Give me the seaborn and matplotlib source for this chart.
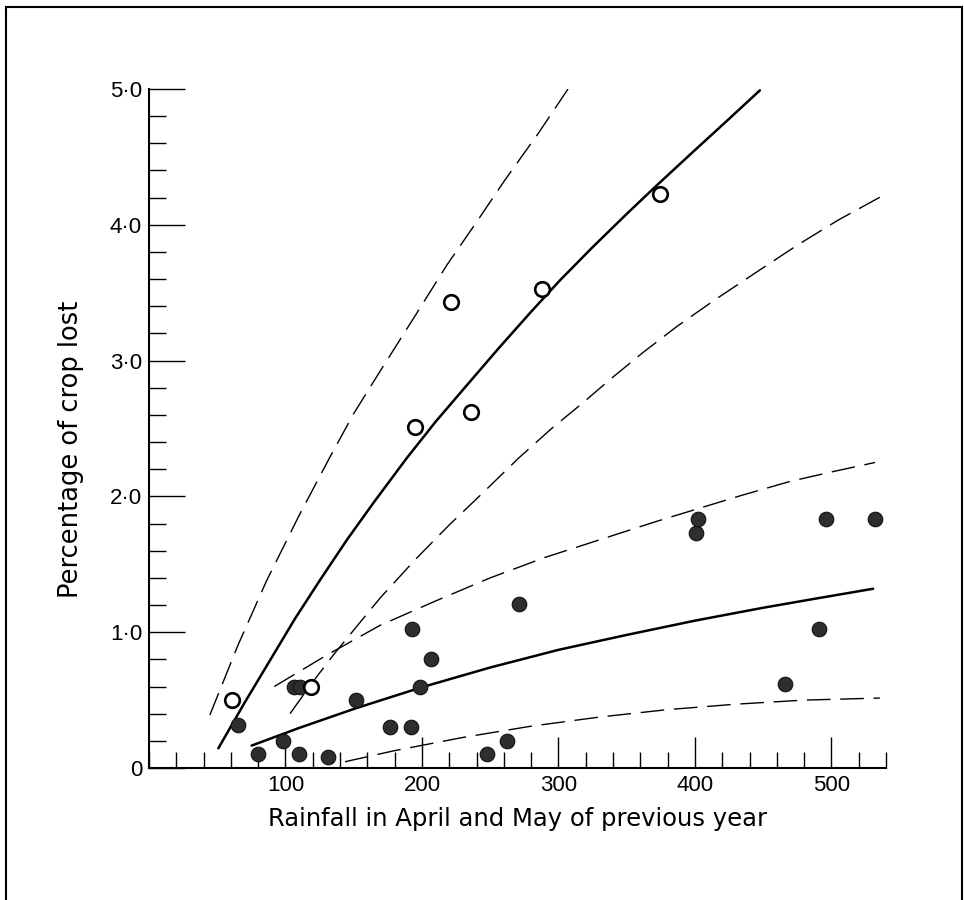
import matplotlib
matplotlib.use("Agg")
import matplotlib.pyplot as plt
from matplotlib.patches import Rectangle
from matplotlib.ticker import MultipleLocator, FixedLocator
import seaborn as sns

# open circles (one group of years)
open_x = [60.8, 118.5, 194.9, 221, 235.7, 288.3, 374.2]
open_y = [0.50, 0.60, 2.51, 3.43, 2.62, 3.53, 4.23]

# filled circles (other group)
filled_x = [65.4, 79.6, 97.9, 106, 111, 109.9, 130.9, 151.6, 176.6, 191.7, 192.4,
            198.5, 206.4, 247.4, 262, 271.3, 400.7, 402.4, 466, 491, 496, 531.9]
filled_y = [0.32, 0.10, 0.20, 0.60, 0.60, 0.10, 0.08, 0.50, 0.30, 0.30, 1.02,
            0.60, 0.80, 0.10, 0.20, 1.21, 1.73, 1.83, 0.62, 1.02, 1.83, 1.83]

# fitted curves and their limits
upper_hi_x = [44.6, 65, 86.2, 110, 132.6, 150, 169.2, 195, 218, 240, 260.8, 285, 307]
upper_hi_y = [0.39, 0.90, 1.38, 1.86, 2.29, 2.61, 2.92, 3.33, 3.70, 4.02, 4.33, 4.67, 5.0]
upper_fit_x = [50.8, 70, 90, 107, 125.3, 145, 165, 188.7, 210, 233, 257, 280, 301,
               325, 350, 372, 400, 425, 447.6]
upper_fit_y = [0.145, 0.48, 0.815, 1.10, 1.384, 1.68, 1.96, 2.28, 2.55, 2.82, 3.10,
               3.36, 3.59, 3.835, 4.08, 4.29, 4.55, 4.78, 4.99]
upper_lo_x = [103.3, 120, 136, 152, 169.2, 195, 220, 245, 270.6, 295, 318, 337.7,
              362, 386.6, 415, 446.4, 475, 505, 536.8]
upper_lo_y = [0.40, 0.634, 0.844, 1.04, 1.25, 1.534, 1.79, 2.03, 2.28, 2.50, 2.69,
              2.86, 3.06, 3.25, 3.45, 3.66, 3.85, 4.035, 4.21]

lower_hi_x = [91.8, 130, 169.2, 210, 250, 290, 330, 370, 402.4, 435, 469.6, 500, 532]
lower_hi_y = [0.60, 0.83, 1.05, 1.23, 1.40, 1.55, 1.68, 1.81, 1.91, 2.01, 2.11, 2.18, 2.25]
lower_fit_x = [75.2, 110, 151.6, 200, 250, 300, 350, 400, 450, 490, 530.6]
lower_fit_y = [0.165, 0.295, 0.44, 0.595, 0.74, 0.87, 0.98, 1.085, 1.18, 1.25, 1.32]
lower_lo_x = [143.6, 180, 230, 280, 330, 380, 430, 480, 535.5]
lower_lo_y = [0.046, 0.128, 0.225, 0.308, 0.375, 0.43, 0.47, 0.50, 0.515]

x_major = [100, 200, 300, 400, 500]
x_labels = ["100", "200", "300", "400", "500"]
y_major = [0, 1, 2, 3, 4, 5]
y_labels = ["0", "1·0", "2·0", "3·0", "4·0", "5·0"]

sns.set_style("ticks")
plt.rcParams["font.family"] = ["Liberation Sans", "DejaVu Sans"]
plt.rcParams.update({"text.color": "black", "axes.labelcolor": "black",
                     "xtick.color": "black", "ytick.color": "black"})

fig = plt.figure(figsize=(9.64, 9.0), dpi=100)
ax = fig.add_axes([149 / 964, 1 - 768 / 900, 737 / 964, 679 / 900])

dash = (0, (17, 7))
for xs, ys, style, lw in [
    (upper_hi_x, upper_hi_y, dash, 1.0),
    (upper_fit_x, upper_fit_y, "-", 1.8),
    (upper_lo_x, upper_lo_y, dash, 1.0),
    (lower_hi_x, lower_hi_y, dash, 1.0),
    (lower_fit_x, lower_fit_y, "-", 1.8),
    (lower_lo_x, lower_lo_y, dash, 1.0),
]:
    sns.lineplot(x=xs, y=ys, sort=False, estimator=None, color="black",
                 linewidth=lw, linestyle=style, ax=ax)

sns.scatterplot(x=filled_x, y=filled_y, s=110, color="#2e2e2e",
                edgecolor="#111111", linewidth=0.8, zorder=3, ax=ax)
sns.scatterplot(x=open_x, y=open_y, s=110, facecolor="white",
                edgecolor="black", linewidth=1.9, zorder=4, ax=ax)

ax.set_xlim(0, 540)
ax.set_ylim(0, 5)
sns.despine(ax=ax)
for side in ["left", "bottom"]:
    ax.spines[side].set_linewidth(1.5)
    ax.spines[side].set_color("black")

ax.xaxis.set_major_locator(FixedLocator(x_major))
ax.set_xticklabels(x_labels)
ax.xaxis.set_minor_locator(MultipleLocator(20))
ax.yaxis.set_major_locator(FixedLocator(y_major))
ax.set_yticklabels(y_labels)
ax.yaxis.set_minor_locator(MultipleLocator(0.2))

ax.tick_params(axis="x", which="major", direction="in", length=22, width=1.0,
               labelsize=16, pad=5, color="black", labelcolor="black")
ax.tick_params(axis="x", which="minor", direction="in", length=11.5, width=1.0,
               color="black")
ax.tick_params(axis="y", which="major", direction="in", length=26, width=1.0,
               labelsize=16, pad=5, color="black", labelcolor="black")
ax.tick_params(axis="y", which="minor", direction="in", length=12, width=1.0,
               color="black")

ax.set_xlabel("Rainfall in April and May of previous year", fontsize=17.5,
              family="DejaVu Sans", labelpad=8, color="black")
ax.set_ylabel("Percentage of crop lost", fontsize=18.5, family="DejaVu Sans",
              color="black")
ax.yaxis.set_label_coords(-0.088, 0.47)

fig.add_artist(Rectangle((6 / 964, -0.01), 956 / 964, 1.01 - 7 / 900,
                         transform=fig.transFigure, fill=False,
                         edgecolor="black", linewidth=1.5))

fig.savefig("out.png", dpi=100)
